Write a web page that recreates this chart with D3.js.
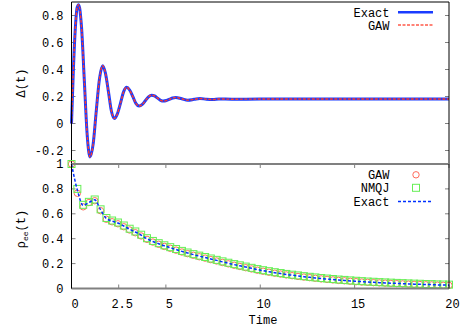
<!DOCTYPE html>
<html><head><meta charset="utf-8">
<script src="https://cdn.jsdelivr.net/npm/d3@7"></script>
<style>body{margin:0;background:#fff}svg{display:block}text{font-family:"Liberation Mono","DejaVu Sans Mono",monospace;font-size:12px;fill:#000}</style>
</head><body>
<svg id="c" width="469" height="328"></svg>
<script>
// ---- data ----
const deltaT = [0,0.1,0.2,0.3,0.38,0.53,0.68,0.83,0.98,1.15,1.31,1.48,1.65,1.8,1.96,2.11,2.27,2.43,2.6,2.76,2.92,3.08,3.25,3.41,3.58,3.75,3.92,4.08,4.25,4.4,4.56,4.72,4.87,5.03,5.2,5.36,5.52,5.84,6.16,6.5,6.8,7.15,7.5,7.8,8.5,10,20];
const exactDelta = [0,0.4,0.7,0.86,0.88,0.715,0.316,-0.083,-0.248,-0.149,0.09,0.329,0.428,0.371,0.233,0.094,0.037,0.071,0.153,0.234,0.268,0.248,0.199,0.149,0.129,0.141,0.17,0.198,0.21,0.204,0.188,0.172,0.166,0.17,0.18,0.189,0.193,0.183,0.173,0.179,0.185,0.18,0.178,0.182,0.18,0.181,0.181];
const gawDelta = [0,0.4,0.7,0.86,0.88,0.715,0.316,-0.083,-0.248,-0.149,0.09,0.329,0.428,0.371,0.233,0.094,0.037,0.071,0.153,0.234,0.268,0.248,0.199,0.149,0.129,0.141,0.17,0.198,0.21,0.204,0.188,0.172,0.166,0.17,0.18,0.189,0.193,0.183,0.173,0.179,0.185,0.18,0.178,0.182,0.18,0.181,0.181];

const rhoT = [0,0.31,0.62,0.92,1.23,1.54,1.85,2.15,2.46,2.77,3.08,3.38,3.69,4.0,4.31,4.62,4.92,5.23,5.54,5.85,6.15,6.46,6.77,7.08,7.38,7.69,8.0,8.31,8.62,8.92,9.23,9.54,9.85,10.15,10.46,10.77,11.08,11.38,11.69,12.0,12.31,12.62,12.92,13.23,13.54,13.85,14.15,14.46,14.77,15.08,15.38,15.69,16.0,16.31,16.62,16.92,17.23,17.54,17.85,18.15,18.46,18.77,19.08,19.38,19.69,20.0];
const exactRho = [1.0,0.79,0.668,0.69,0.712,0.632,0.562,0.542,0.526,0.502,0.476,0.454,0.428,0.40,0.378,0.36,0.343,0.328,0.313,0.298,0.285,0.272,0.26,0.249,0.237,0.226,0.214,0.203,0.192,0.182,0.172,0.162,0.152,0.143,0.135,0.127,0.12,0.113,0.107,0.101,0.095,0.09,0.085,0.08,0.076,0.072,0.068,0.065,0.061,0.058,0.055,0.052,0.05,0.047,0.045,0.043,0.041,0.039,0.037,0.035,0.034,0.032,0.031,0.029,0.028,0.027];
const gawRho = [1.0,0.765,0.656,0.69,0.705,0.625,0.556,0.536,0.52,0.496,0.47,0.448,0.422,0.395,0.373,0.355,0.338,0.323,0.308,0.293,0.28,0.267,0.255,0.244,0.232,0.221,0.209,0.198,0.187,0.177,0.167,0.157,0.147,0.139,0.131,0.123,0.116,0.109,0.103,0.097,0.092,0.087,0.082,0.077,0.073,0.069,0.065,0.062,0.058,0.055,0.052,0.05,0.047,0.045,0.043,0.041,0.039,0.037,0.035,0.033,0.032,0.03,0.029,0.027,0.026,0.025];
const nmqjRho = [1.0,0.80,0.672,0.696,0.715,0.636,0.566,0.546,0.53,0.506,0.48,0.458,0.432,0.404,0.382,0.364,0.347,0.332,0.317,0.302,0.289,0.276,0.264,0.253,0.241,0.23,0.218,0.207,0.196,0.186,0.176,0.166,0.156,0.147,0.139,0.131,0.124,0.117,0.111,0.105,0.099,0.094,0.089,0.084,0.08,0.076,0.072,0.069,0.065,0.062,0.059,0.056,0.054,0.051,0.049,0.047,0.045,0.043,0.041,0.039,0.038,0.036,0.035,0.033,0.032,0.031];

const xTicks = [0,2.5,5,10,15,20];
const xTickLabels = ["0","2.5","5","10","15","20"];
const yTopTicks = [-0.2,0,0.2,0.4,0.6,0.8];
const yTopLabels = ["-0.2","0","0.2","0.4","0.6","0.8"];
const yBotTicks = [0,0.2,0.4,0.6,0.8,1];
const yBotLabels = ["0","0.2","0.4","0.6","0.8","1"];

// ---- drawing ----
const svg = d3.select("#c");
const L = 71.5, R = 449;
const x = d3.scaleLinear().domain([0,20]).range([L,R]);
const yTop = d3.scaleLinear().domain([-0.3,0.9]).range([164,2]);
const yBot = d3.scaleLinear().domain([0,1]).range([288.5,164]);
const tickLen = 4;

function ticks(yS, yt, ylab, xlabels){
  const g = svg.append("g");
  const [y0,y1] = yS.range();
  yt.forEach((v,i)=>{
    const yy = yS(v);
    g.append("line").attr("x1",L).attr("x2",L+tickLen).attr("y1",yy).attr("y2",yy).attr("stroke","#808080");
    g.append("line").attr("x1",R).attr("x2",R-tickLen).attr("y1",yy).attr("y2",yy).attr("stroke","#808080");
    g.append("text").attr("x",L-8).attr("y",yy+4).attr("text-anchor","end").text(ylab[i]);
  });
  if(xlabels){
    xTicks.forEach((v,i)=>{
      const xx = x(v);
      g.append("line").attr("x1",xx).attr("x2",xx).attr("y1",y0).attr("y2",y0-tickLen).attr("stroke","#808080");
      g.append("line").attr("x1",xx).attr("x2",xx).attr("y1",y1).attr("y2",y1+tickLen).attr("stroke","#808080");
      g.append("text").attr("x",xx+3.5).attr("y",y0+19.5).attr("text-anchor","middle").text(xTickLabels[i]);
    });
  }
  return g;
}

// top panel
ticks(yTop, yTopTicks, yTopLabels, false);
const lineTop = (xs, ys) => d3.line().x((d,i)=>x(xs[i])).y(d=>yTop(d)).curve(d3.curveMonotoneX)(ys);
svg.append("path").attr("d", lineTop(deltaT, exactDelta)).attr("fill","none").attr("stroke","#1a3cff").attr("stroke-width",3);
svg.append("path").attr("d", lineTop(deltaT, gawDelta)).attr("fill","none").attr("stroke","#ff3a2a").attr("stroke-width",1.4).attr("stroke-dasharray","3,1.5");
svg.append("line").attr("x1",L).attr("x2",R).attr("y1",2).attr("y2",2).attr("stroke","#000");
svg.append("line").attr("x1",L).attr("x2",L).attr("y1",2).attr("y2",164).attr("stroke","#000");
svg.append("line").attr("x1",R).attr("x2",R).attr("y1",2).attr("y2",164).attr("stroke","#000");

// top legend
svg.append("text").attr("x",389.5).attr("y",16.5).attr("text-anchor","end").text("Exact");
svg.append("line").attr("x1",398).attr("x2",433).attr("y1",12.3).attr("y2",12.3).attr("stroke","#1a3cff").attr("stroke-width",2.5);
svg.append("text").attr("x",389.5).attr("y",29.5).attr("text-anchor","end").text("GAW");
svg.append("line").attr("x1",398).attr("x2",433).attr("y1",25).attr("y2",25).attr("stroke","#ff5a4a").attr("stroke-width",1.4).attr("stroke-dasharray","3,1.5");

// bottom panel
ticks(yBot, yBotTicks, yBotLabels, true);
const gg = svg.append("g");
gg.selectAll("circle.g").data(gawRho).join("circle").attr("class","g")
  .attr("cx",(d,i)=>x(rhoT[i])).attr("cy",d=>yBot(d)).attr("r",3.2)
  .attr("fill","none").attr("stroke","#ff6a5a").attr("stroke-width",1);
gg.selectAll("rect.n").data(nmqjRho).join("rect").attr("class","n")
  .attr("x",(d,i)=>x(rhoT[i])-3.5).attr("y",d=>yBot(d)-3.5).attr("width",7).attr("height",7)
  .attr("fill","none").attr("stroke","#66ee55").attr("stroke-width",1);
const lineBot = d3.line().x((d,i)=>x(rhoT[i])).y(d=>yBot(d)).curve(d3.curveMonotoneX);
svg.append("path").attr("d", lineBot(exactRho)).attr("fill","none").attr("stroke","#0030ff").attr("stroke-width",1.5).attr("stroke-dasharray","3,2");

svg.append("line").attr("x1",L).attr("x2",R).attr("y1",164).attr("y2",164).attr("stroke","#808080").attr("stroke-width",2);
svg.append("line").attr("x1",L).attr("x2",R).attr("y1",288.5).attr("y2",288.5).attr("stroke","#808080").attr("stroke-width",2);
svg.append("line").attr("x1",L).attr("x2",L).attr("y1",164).attr("y2",288.5).attr("stroke","#000");
svg.append("line").attr("x1",R).attr("x2",R).attr("y1",164).attr("y2",288.5).attr("stroke","#000");

// bottom legend
svg.append("text").attr("x",389.5).attr("y",179).attr("text-anchor","end").text("GAW");
svg.append("circle").attr("cx",416).attr("cy",174.8).attr("r",3.2).attr("fill","none").attr("stroke","#ff6a5a");
svg.append("text").attr("x",389.5).attr("y",192).attr("text-anchor","end").text("NMQJ");
svg.append("rect").attr("x",412.5).attr("y",184.3).attr("width",7).attr("height",7).attr("fill","none").attr("stroke","#66ee55");
svg.append("text").attr("x",389.5).attr("y",205.5).attr("text-anchor","end").text("Exact");
svg.append("line").attr("x1",398).attr("x2",433).attr("y1",201.5).attr("y2",201.5).attr("stroke","#0030ff").attr("stroke-width",1.5).attr("stroke-dasharray","3,2");

// axis titles
svg.append("text").attr("transform","translate(25,83) rotate(-90)").attr("text-anchor","middle").text("Δ(t)");
const rt = svg.append("text").attr("transform","translate(25,229) rotate(-90)").attr("text-anchor","middle");
rt.append("tspan").text("ρ");
rt.append("tspan").attr("font-size","8px").attr("dy",3).text("ee");
rt.append("tspan").attr("dy",-3).text("(t)");
svg.append("text").attr("x",263).attr("y",324).attr("text-anchor","middle").text("Time");
</script>
</body></html>
